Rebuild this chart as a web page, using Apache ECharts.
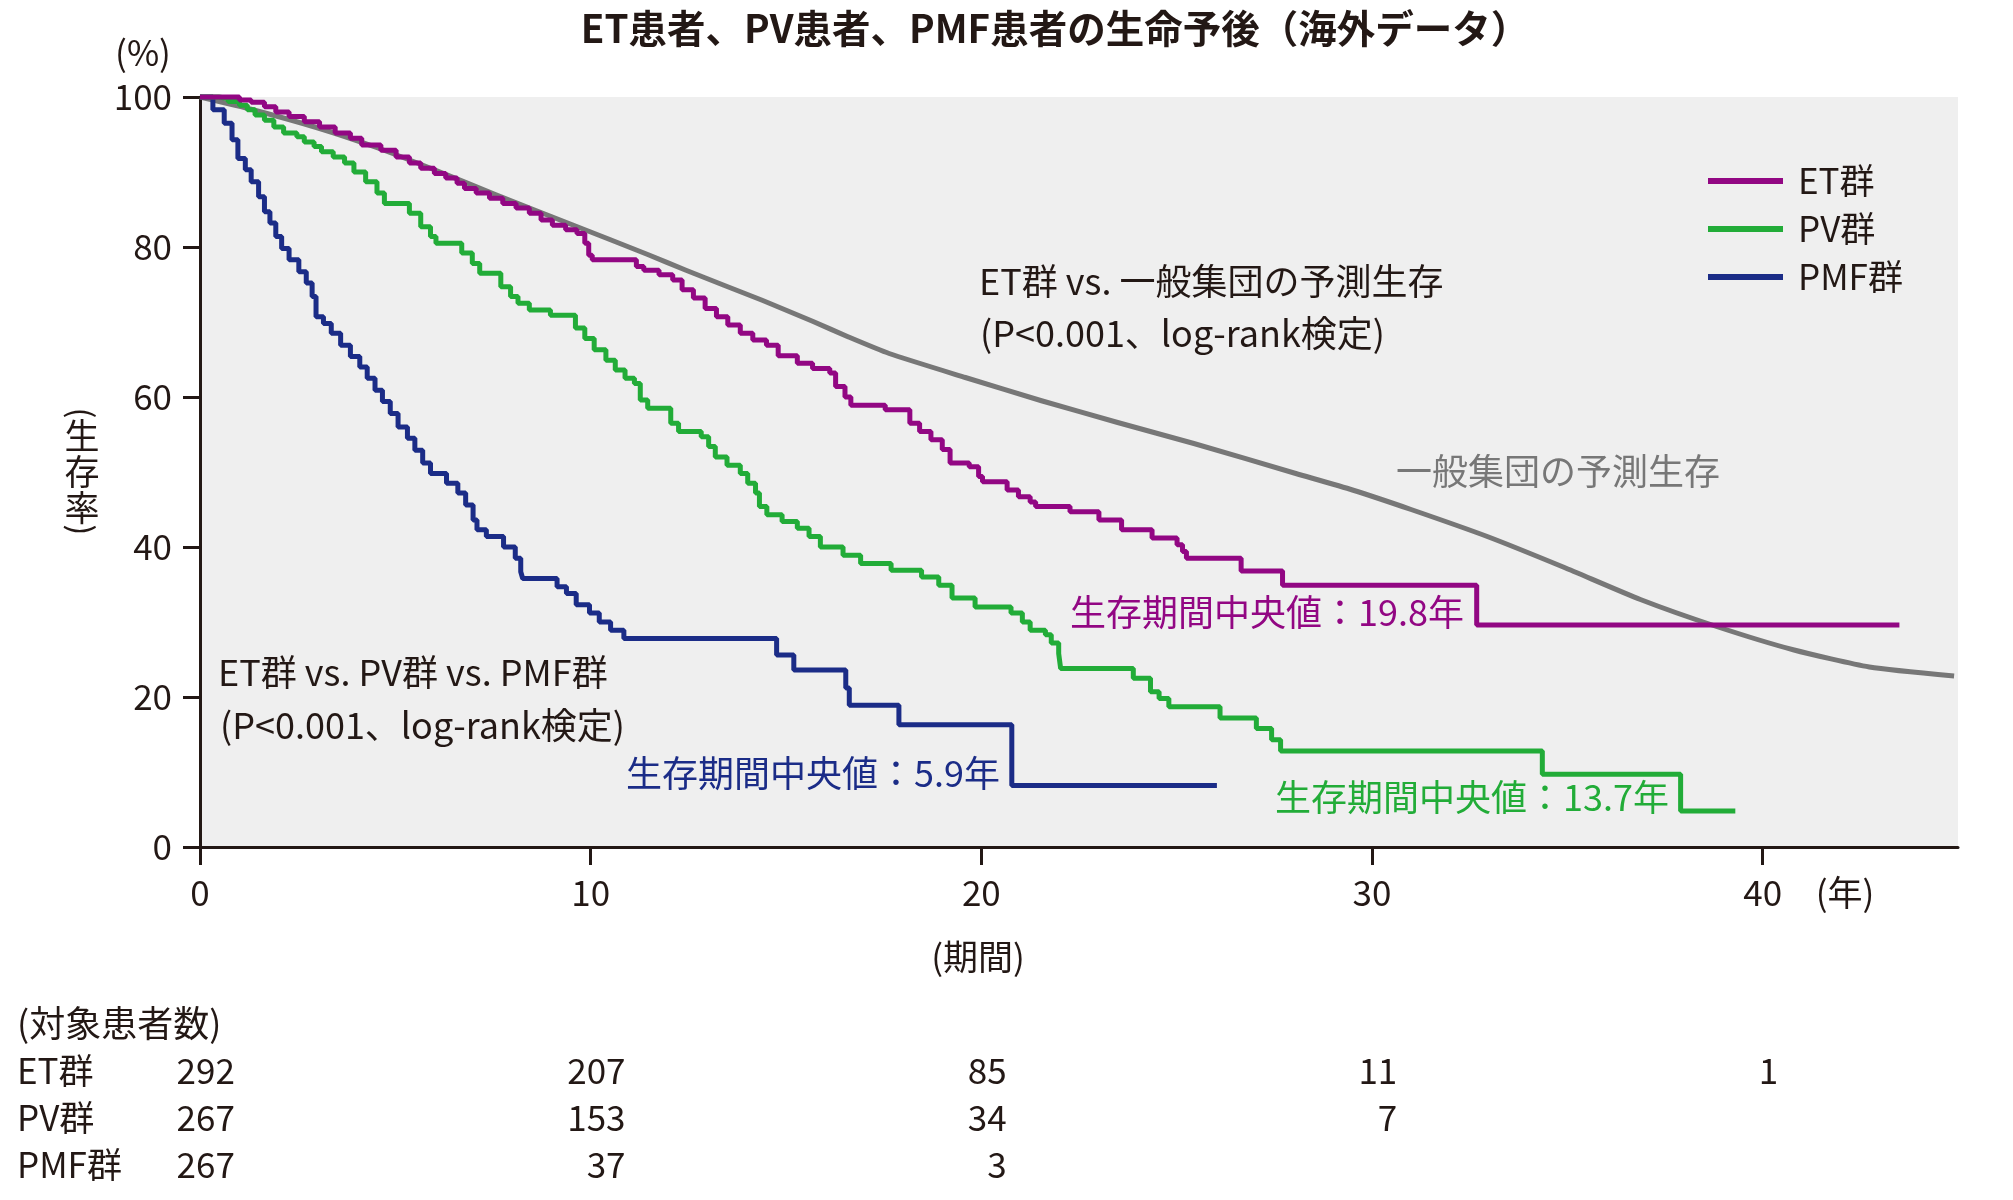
<!DOCTYPE html>
<html>
<head>
<meta charset="utf-8">
<title>ET/PV/PMF 生命予後</title>
<script src="https://cdn.jsdelivr.net/npm/echarts/dist/echarts.min.js"></script>
<style>
html, body { margin: 0; padding: 0; background: #fff; }
#main { width: 2013px; height: 1200px; }
</style>
</head>
<body>
<div id="main"></div>
<script>
// x軸目盛（年）
var xTicks = [0, 10, 20, 30, 40];

// 生存曲線 [年, 生存率%]
var etCurve = [
	[0, 100], [1.01, 99.6], [1.31, 99.3], [1.65, 98.7], [1.94, 98.0], [2.28, 97.4], [2.67, 96.7],
	[3.06, 96.0], [3.46, 95.2], [3.85, 94.5], [4.14, 93.6], [4.63, 92.9], [5.02, 92.0], [5.36, 91.2],
	[5.65, 90.5], [6.00, 89.8], [6.29, 89.2], [6.58, 88.5], [6.77, 87.8], [7.07, 87.2], [7.41, 86.5],
	[7.75, 85.8], [8.09, 85.2], [8.43, 84.5], [8.73, 83.6], [9.02, 82.9], [9.36, 82.3], [9.65, 81.8],
	[9.85, 80.5], [9.95, 78.9], [10.04, 78.3], [11.17, 77.4], [11.36, 76.9], [11.75, 76.3], [12.10, 75.6],
	[12.34, 74.3], [12.63, 73.2], [12.93, 71.8], [13.22, 70.7], [13.51, 69.6], [13.83, 68.5], [14.15, 67.6],
	[14.50, 66.9], [14.80, 65.5], [15.29, 64.5], [15.68, 63.8], [16.12, 63.2], [16.27, 61.4], [16.51, 60.0],
	[16.66, 58.9], [17.54, 58.3], [18.17, 56.5], [18.42, 55.4], [18.71, 54.3], [19.00, 53.0], [19.20, 51.2],
	[19.69, 50.7], [19.93, 49.4], [20.03, 48.7], [20.66, 47.6], [20.95, 46.7], [21.25, 46.0], [21.39, 45.4],
	[22.27, 44.7], [23.01, 43.6], [23.59, 42.3], [24.37, 41.2], [25.01, 40.3], [25.15, 39.4], [25.25, 38.5],
	[26.65, 36.8], [27.71, 34.9], [32.68, 29.6], [43.5, 29.6]
];
var pvCurve = [
	[0, 100], [0.48, 99.8], [0.72, 99.4], [1.01, 98.9], [1.21, 98.3], [1.41, 97.6], [1.65, 96.9],
	[1.89, 96.0], [2.14, 95.2], [2.48, 94.7], [2.67, 94.0], [2.92, 93.4], [3.11, 92.7], [3.41, 92.0],
	[3.70, 91.2], [3.94, 90.0], [4.24, 88.7], [4.53, 87.2], [4.72, 85.8], [5.36, 84.5], [5.65, 82.7],
	[5.90, 81.4], [6.04, 80.5], [6.70, 79.2], [6.97, 77.8], [7.16, 76.5], [7.70, 74.7], [7.95, 73.4],
	[8.14, 72.5], [8.43, 71.6], [8.97, 70.9], [9.61, 69.2], [9.85, 67.8], [10.09, 66.3], [10.39, 64.9],
	[10.63, 63.6], [10.88, 62.5], [11.12, 61.8], [11.27, 59.6], [11.46, 58.5], [12.05, 56.5], [12.25, 55.4],
	[12.83, 54.7], [13.02, 53.4], [13.19, 52.0], [13.49, 50.9], [13.83, 49.8], [14.02, 48.5], [14.22, 47.2],
	[14.32, 45.4], [14.51, 44.3], [14.90, 43.4], [15.29, 42.5], [15.59, 41.4], [15.88, 40.0], [16.46, 38.9],
	[16.91, 37.8], [17.69, 36.9], [18.47, 36.0], [18.91, 34.9], [19.25, 33.2], [19.84, 32.0], [20.76, 31.2],
	[21.05, 30.0], [21.25, 28.9], [21.64, 28.3], [21.79, 27.2], [21.98, 25.8], [22.03, 23.8], [23.89, 22.5],
	[24.33, 20.7], [24.55, 19.8], [24.80, 18.7], [26.11, 17.2], [27.04, 15.8], [27.43, 14.3], [27.66, 12.8],
	[34.36, 9.7], [37.90, 4.8], [39.30, 4.8]
];
var pmfCurve = [
	[0, 100], [0.33, 98.3], [0.62, 96.5], [0.82, 94.3], [0.97, 91.8], [1.16, 90.3], [1.31, 88.7],
	[1.50, 86.7], [1.65, 84.7], [1.79, 83.2], [1.94, 81.4], [2.09, 79.8], [2.28, 78.3], [2.53, 76.7],
	[2.72, 75.2], [2.87, 73.4], [2.97, 70.7], [3.16, 69.8], [3.36, 68.5], [3.60, 66.9], [3.85, 65.4],
	[4.09, 64.0], [4.28, 62.5], [4.48, 60.9], [4.67, 59.4], [4.87, 57.8], [5.07, 56.0], [5.31, 54.5],
	[5.50, 52.9], [5.70, 51.2], [5.90, 49.8], [6.31, 48.5], [6.60, 47.2], [6.80, 45.6], [6.99, 43.6],
	[7.09, 42.3], [7.33, 41.4], [7.77, 40.0], [8.07, 38.5], [8.21, 36.7], [8.26, 35.8], [9.14, 34.7],
	[9.38, 33.8], [9.63, 32.3], [9.97, 31.2], [10.22, 30.0], [10.51, 28.9], [10.85, 27.8], [14.76, 25.6],
	[15.20, 23.6], [16.53, 21.2], [16.62, 18.9], [17.89, 16.3], [20.78, 8.2], [26.03, 8.2]
];
// 一般集団の予測生存
var generalCurve = [
	[0, 100], [1.21, 98.5], [3, 95.9], [4.5, 93.3], [6, 90.3], [7.56, 87.0], [8.53, 85.0],
	[9.51, 83.0], [10.49, 81.0], [11.46, 79.0], [12.44, 76.9], [13.41, 74.9], [14.39, 72.9],
	[15.68, 70.1], [16.6, 68.0], [17.64, 65.8], [19.59, 62.6], [21.54, 59.5], [23.49, 56.6],
	[25.44, 53.8], [28.05, 49.8], [29.5, 47.6], [31.0, 45.0], [32.95, 41.4], [34.91, 37.3],
	[36.87, 33.0], [38.82, 29.4], [40.78, 26.3], [42.73, 24.0], [44.9, 22.8]
];

// 対象患者数
var groupNames = ['ET群', 'PV群', 'PMF群'];
var etAtRisk = [292, 207, 85, 11, 1];
var pvAtRisk = [267, 153, 34, 7];
var pmfAtRisk = [267, 37, 3];

var FONT = '"Noto Sans CJK JP", "Noto Sans", sans-serif';
var INK = '#231815';
var C_ET = '#920783';
var C_PV = '#22ac38';
var C_PMF = '#1b2c87';
var C_GEN = '#777777';

// テキスト要素
function txt(text, x, y, align, color, size, weight) {
	return {
		type: 'text',
		x: x,
		y: y,
		silent: true,
		style: {
			text: text,
			fill: color || INK,
			fontSize: size || 35,
			fontFamily: FONT,
			fontWeight: weight || 'normal',
			align: align || 'left',
			verticalAlign: 'middle'
		}
	};
}

var chart = echarts.init(document.getElementById('main'));

var option = {
	backgroundColor: '#ffffff',
	animation: false,
	grid: {
		left: 200,
		top: 97,
		width: 1758,
		height: 750,
		show: true,
		backgroundColor: '#efefef',
		borderWidth: 0
	},
	legend: {
		data: ['ET群', 'PV群', 'PMF群'],
		orient: 'vertical',
		left: 1708,
		top: 161,
		padding: 0,
		itemGap: 8,
		itemWidth: 75,
		itemHeight: 6,
		icon: 'rect',
		selectedMode: false,
		textStyle: {
			fontSize: 35,
			fontFamily: FONT,
			color: INK,
			lineHeight: 40,
			padding: [0, 0, 0, 10]
		}
	},
	xAxis: {
		type: 'value',
		min: 0,
		max: 45,
		interval: 10,
		axisLine: { show: true, onZero: false, lineStyle: { color: INK, width: 3 } },
		axisTick: { show: true, length: 18, customValues: xTicks, lineStyle: { color: INK, width: 3 } },
		axisLabel: { fontSize: 35, fontFamily: FONT, color: INK, margin: 28, customValues: xTicks },
		splitLine: { show: false }
	},
	yAxis: {
		type: 'value',
		min: 0,
		max: 100,
		interval: 20,
		axisLine: { show: true, lineStyle: { color: INK, width: 3 } },
		axisTick: { show: true, length: 17, lineStyle: { color: INK, width: 3 } },
		axisLabel: { fontSize: 35, fontFamily: FONT, color: INK, margin: 28 },
		splitLine: { show: false }
	},
	series: [{
		name: '一般集団の予測生存',
		type: 'line',
		data: generalCurve,
		smooth: 0.2,
		showSymbol: false,
		clip: false,
		color: C_GEN,
		lineStyle: { color: C_GEN, width: 5, join: 'round' },
		z: 1
	}, {
		name: 'PMF群',
		type: 'line',
		data: pmfCurve,
		step: 'end',
		showSymbol: false,
		clip: false,
		color: C_PMF,
		lineStyle: { color: C_PMF, width: 5 },
		z: 2
	}, {
		name: 'PV群',
		type: 'line',
		data: pvCurve,
		step: 'end',
		showSymbol: false,
		clip: false,
		color: C_PV,
		lineStyle: { color: C_PV, width: 5 },
		z: 3
	}, {
		name: 'ET群',
		type: 'line',
		data: etCurve,
		step: 'end',
		showSymbol: false,
		clip: false,
		color: C_ET,
		lineStyle: { color: C_ET, width: 5 },
		z: 4
	}]
};
chart.setOption(option);

/**
 * 文字・対象患者数の表
 */
var topParen = txt('(', 82, 413, 'center', INK, 32);
topParen.rotation = -Math.PI / 2;
var bottomParen = txt(')', 82, 530, 'center', INK, 32);
bottomParen.rotation = -Math.PI / 2;

var els = [
	txt('ET患者、PV患者、PMF患者の生命予後（海外データ）', 1055, 28, 'center', INK, 38.5, 'bold'),
	txt('(%)', 143, 53, 'center'),
	txt('(年)', 1845, 893, 'center'),
	txt('(期間)', 978, 957, 'center'),
	txt('ET群 vs. 一般集団の予測生存', 979, 281, 'left', INK, 36),
	txt('(P<0.001、log-rank検定)', 980, 333, 'left', INK, 36),
	txt('一般集団の予測生存', 1396, 471, 'left', C_GEN, 36),
	txt('生存期間中央値：19.8年', 1464, 612, 'right', C_ET, 36),
	txt('ET群 vs. PV群 vs. PMF群', 218, 672, 'left', INK, 36),
	txt('(P<0.001、log-rank検定)', 220, 725, 'left', INK, 36),
	txt('生存期間中央値：5.9年', 1000, 773, 'right', C_PMF, 36),
	txt('生存期間中央値：13.7年', 1669, 797, 'right', C_PV, 36),
	// 縦書きの軸名
	topParen,
	txt('生', 82, 436, 'center'),
	txt('存', 82, 472, 'center'),
	txt('率', 82, 508, 'center'),
	bottomParen,
	txt('(対象患者数)', 17, 1023, 'left', INK, 36)
];

var rowY = [1071, 1118, 1165];
var atRisk = [etAtRisk, pvAtRisk, pmfAtRisk];
for (var r = 0; r < groupNames.length; r++) {
	els.push(txt(groupNames[r], 17, rowY[r]));
	for (var c = 0; c < atRisk[r].length; c++) {
		var px = chart.convertToPixel({ xAxisIndex: 0 }, xTicks[c]);
		// 各列はET群の数値を中心に置き、右揃え
		var half = String(etAtRisk[c]).length * 0.55 * 35 / 2;
		els.push(txt(String(atRisk[r][c]), px + half + 6, rowY[r], 'right'));
	}
}

chart.setOption({ graphic: { elements: els } });
</script>
</body>
</html>
